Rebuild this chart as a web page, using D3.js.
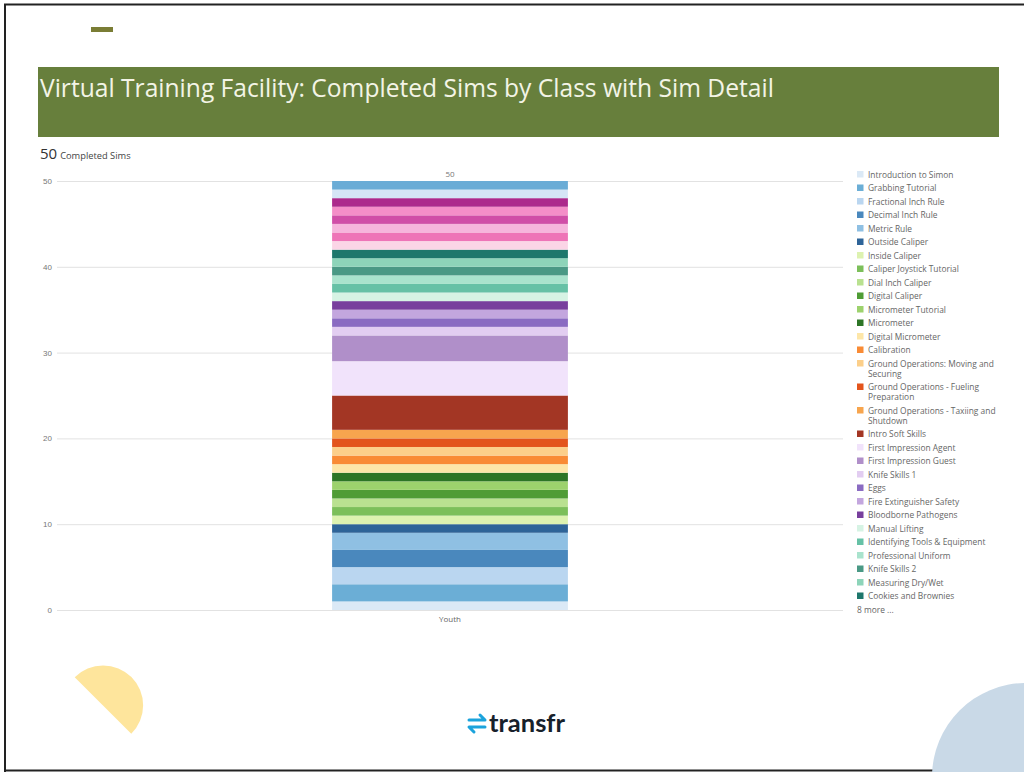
<!DOCTYPE html>
<html>
<head>
<meta charset="utf-8">
<script src="https://cdn.jsdelivr.net/npm/d3@7"></script>
<style>
  html, body { margin: 0; padding: 0; background: #fff; }
  svg { display: block; font-family: "Open Sans", "DejaVu Sans", sans-serif; }
</style>
</head>
<body>
<svg id="chart" width="1024" height="772"></svg>
<script>
// one class, one stacked bar, bottom-to-top order of sims
const categories = ["Youth"];
const sims = [
  "Introduction to Simon", "Grabbing Tutorial", "Fractional Inch Rule", "Decimal Inch Rule",
  "Metric Rule", "Outside Caliper", "Inside Caliper", "Caliper Joystick Tutorial",
  "Dial Inch Caliper", "Digital Caliper", "Micrometer Tutorial", "Micrometer",
  "Digital Micrometer", "Calibration", "Ground Operations: Moving and Securing",
  "Ground Operations - Fueling Preparation", "Ground Operations - Taxiing and Shutdown",
  "Intro Soft Skills", "First Impression Agent", "First Impression Guest", "Knife Skills 1",
  "Eggs", "Fire Extinguisher Safety", "Bloodborne Pathogens", "Manual Lifting",
  "Identifying Tools & Equipment", "Professional Uniform", "Knife Skills 2",
  "Measuring Dry/Wet", "Cookies and Brownies",
  // the 8 hidden behind "8 more ..."
  "Other 1", "Other 2", "Other 3", "Other 4", "Other 5", "Other 6", "Other 7", "Other 8"
];
const counts = [
  1, 2, 2, 2, 2, 1, 1, 1, 1, 1, 1, 1, 1, 1, 1, 1, 1, 4, 4, 3,
  1, 1, 1, 1, 1, 1, 1, 1, 1, 1,
  1, 1, 1, 1, 1, 1, 1, 1
];
const colors = [
  "#dbe9f6", "#6baed6", "#bad6f0", "#4a88bd", "#8fc0e3", "#2e6498",
  "#ddf2b0", "#7cbf5a", "#b9e190", "#4f9c35", "#9dd26d", "#2d7526",
  "#fde6a8", "#f98b35", "#fccf8a", "#e3541c", "#f7a54e", "#a33624",
  "#f1e3fb", "#b08fc9", "#e2cdf1", "#8a6bc2", "#c3a6de", "#783f9d",
  "#d6f3e4", "#66c1a6", "#a9e3cd", "#4a9985", "#8dd4b9", "#1e776c",
  "#fbd5e6", "#ee74b7", "#f6b5dc", "#d04ea7", "#f48ec8", "#ac2a8c", "#d5e6f6", "#6aacd6"
];
const yTicks = [0, 10, 20, 30, 40, 50];
const legendShown = 30;
const totalLabel = "50";

const svg = d3.select("#chart");

// page frame (left, top, bottom)
svg.append("path")
  .attr("d", "M5,772 L5,4.5 L1024,4.5 M5,770.5 L1024,770.5")
  .attr("fill", "none").attr("stroke", "#222").attr("stroke-width", 2);

// decorations
svg.append("rect").attr("x", 91).attr("y", 27).attr("width", 22).attr("height", 5).attr("fill", "#7a7d35");
svg.append("path")
  .attr("d", d3.arc()({ innerRadius: 0, outerRadius: 40, startAngle: -Math.PI / 4, endAngle: Math.PI * 3 / 4 }))
  .attr("transform", "translate(103,705.5)")
  .attr("fill", "#fee59c");
svg.append("circle").attr("cx", 1026).attr("cy", 777).attr("r", 94).attr("fill", "#c9d9e7");

// title banner
svg.append("rect").attr("x", 38).attr("y", 67).attr("width", 961).attr("height", 70).attr("fill", "#677f3c");
svg.append("text").attr("x", 40).attr("y", 97)
  .attr("fill", "#f3f4e6").style("font-size", "24.6px")
  .text("Virtual Training Facility: Completed Sims by Class with Sim Detail");

// headline total
const head = svg.append("text").attr("x", 40).attr("y", 159).attr("fill", "#333");
head.append("tspan").style("font-size", "15px").text(totalLabel);
head.append("tspan").attr("dx", 3).style("font-size", "9.3px").attr("fill", "#444").text("Completed Sims");

// scales
const x = d3.scaleBand().domain(categories).range([57, 843]).paddingInner(0.7).paddingOuter(0.35);
const y = d3.scaleLinear().domain([0, 50]).range([610, 181]);

// gridlines + y labels
const yAxis = svg.append("g").attr("transform", "translate(57,0)")
  .call(d3.axisLeft(y).tickValues(yTicks).tickSize(-786).tickPadding(5));
yAxis.select(".domain").remove();
yAxis.selectAll(".tick line").attr("stroke", "#e2e2e2");
yAxis.selectAll(".tick text").attr("fill", "#777").style("font-size", "8px").attr("font-family", null);

// stacked bar
const row = { cat: categories[0] };
sims.forEach((s, i) => { row[s] = counts[i]; });
const series = d3.stack().keys(sims)([row]);

svg.append("g").selectAll("rect")
  .data(series)
  .join("rect")
  .attr("x", x(categories[0]))
  .attr("width", x.bandwidth())
  .attr("y", d => y(d[0][1]))
  .attr("height", d => y(d[0][0]) - y(d[0][1]))
  .attr("fill", (d, i) => colors[i]);

// total label + category label
svg.append("text").attr("x", x(categories[0]) + x.bandwidth() / 2).attr("y", y(50) - 4)
  .attr("text-anchor", "middle").attr("fill", "#777").style("font-size", "8px").text(totalLabel);
svg.append("text").attr("x", x(categories[0]) + x.bandwidth() / 2).attr("y", 622)
  .attr("text-anchor", "middle").attr("fill", "#666").style("font-size", "8px").text(categories[0]);

// legend
const legend = svg.append("g").attr("transform", "translate(857,0)");
let ly = 174.5;
sims.slice(0, legendShown).forEach((s, i) => {
  const lines = [];
  const words = s.split(" ");
  let cur = "";
  words.forEach(w => {
    const t = cur ? cur + " " + w : w;
    if (t.length > 31 && cur) { lines.push(cur); cur = w; } else cur = t;
  });
  lines.push(cur);
  legend.append("rect").attr("x", 0).attr("y", ly - 3.5).attr("width", 6.5).attr("height", 6.5).attr("fill", colors[i]);
  const t = legend.append("text").attr("x", 11).attr("y", ly + 3).attr("fill", "#666").style("font-size", "8.4px");
  lines.forEach((l, j) => t.append("tspan").attr("x", 11).attr("dy", j ? 10 : 0).text(l));
  ly += 13.5 + (lines.length - 1) * 10;
});
legend.append("text").attr("x", 0).attr("y", ly + 3).attr("fill", "#666").style("font-size", "8.4px")
  .text((sims.length - legendShown) + " more ...");

// transfr logo
const logo = svg.append("g").attr("transform", "translate(468,714)");
logo.append("path").attr("d", "M1,6 L17,6 L12,1").attr("fill", "none").attr("stroke", "#1ba3dc")
  .attr("stroke-width", 3).attr("stroke-linecap", "round").attr("stroke-linejoin", "round");
logo.append("path").attr("d", "M17,13 L1,13 L6,18").attr("fill", "none").attr("stroke", "#1ba3dc")
  .attr("stroke-width", 3).attr("stroke-linecap", "round").attr("stroke-linejoin", "round");
svg.append("text").attr("x", 489).attr("y", 732).attr("fill", "#17212b")
  .style("font-size", "25.5px").style("font-weight", 700).attr("font-family", "Lato, 'Open Sans', sans-serif")
  .text("transfr");
</script>
</body>
</html>
